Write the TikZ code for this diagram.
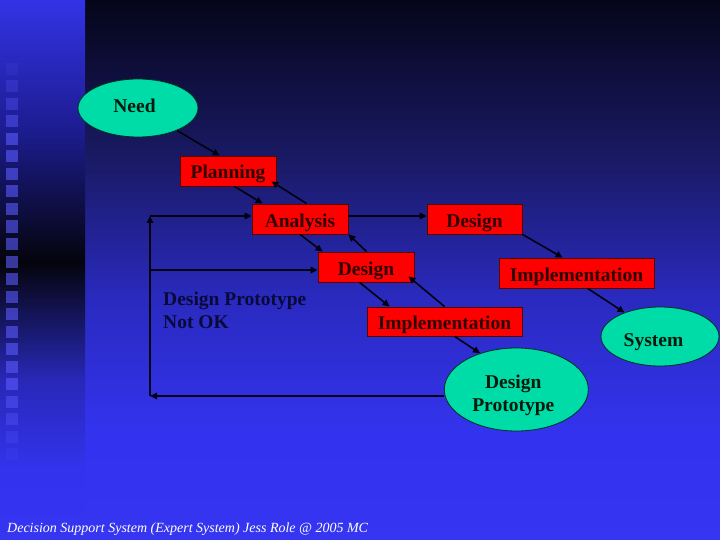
\documentclass[tikz,border=0pt]{standalone}
\usepackage{fontspec}
\setmainfont{Liberation Serif}
\usetikzlibrary{arrows.meta,shapes.geometric}
\definecolor{boxred}{HTML}{FF0000}
\definecolor{boxedge}{HTML}{5A0000}
\definecolor{boxtext}{HTML}{300000}
\definecolor{ovalfill}{HTML}{00DCA8}
\definecolor{ovaledge}{HTML}{00301F}
\definecolor{ovaltext}{HTML}{001A0C}
\definecolor{linecol}{HTML}{000010}
\definecolor{notokcol}{HTML}{0A0A38}
\definecolor{bgA}{HTML}{05051A}
\definecolor{bgB}{HTML}{1A1A66}
\definecolor{bgC}{HTML}{2A2AC0}
\definecolor{bgD}{HTML}{3333EE}
\definecolor{bgE}{HTML}{3535F2}
\definecolor{stA}{HTML}{3333E6}
\definecolor{stB}{HTML}{1C1C90}
\definecolor{stC}{HTML}{04040C}
\definecolor{stD}{HTML}{2828B8}
\definecolor{sqcol}{HTML}{5A5AFF}
\begin{document}
\begin{tikzpicture}[x=1pt,y=-1pt,
  stepbox/.style={rectangle, draw=boxedge, line width=0.8pt, fill=boxred,
    minimum height=30pt, inner sep=0pt, text=boxtext,
    font=\fontsize{19.5}{23}\selectfont\bfseries, text height=16pt, text depth=0pt},
  oval/.style={ellipse, draw=ovaledge, line width=0.8pt, fill=ovalfill,
    inner sep=0pt, text=ovaltext, font=\fontsize{19.5}{23}\selectfont\bfseries},
  conn/.style={draw=linecol, line width=1.6pt, -{Triangle[width=6.5pt,length=7pt]}},
  plain/.style={inner sep=0pt, text=notokcol, font=\fontsize{19.5}{23}\selectfont\bfseries},
  footer/.style={inner sep=0pt, text=white, font=\fontsize{14}{16}\selectfont\itshape}
]
\useasboundingbox (0,0) rectangle (720,540);
% background (main area)
\shade[top color=bgA, bottom color=bgB] (85,0) rectangle (720,160.5);
\shade[top color=bgB, bottom color=bgC] (85,160) rectangle (720,300.5);
\shade[top color=bgC, bottom color=bgD] (85,300) rectangle (720,430.5);
\shade[top color=bgD, bottom color=bgE] (85,430) rectangle (720,540);
% left strip
\shade[top color=stA, bottom color=stB] (0,0) rectangle (85,130.5);
\shade[top color=stB, bottom color=stC] (0,130) rectangle (85,262.5);
\shade[top color=stC, bottom color=stD] (0,262) rectangle (85,380.5);
\shade[top color=stD, bottom color=bgD] (0,380) rectangle (85,470.5);
\shade[top color=bgD, bottom color=bgE] (0,470) rectangle (85,540);
\foreach \i in {0,...,22} {
  \pgfmathsetmacro\op{0.6*min(1,(\i+1)/5,(23-\i)/5)}
  \fill[sqcol, opacity=\op] (6,{63+\i*17.5}) rectangle ++(12,12);
}
% nodes
\node[oval, minimum width=120pt, minimum height=58pt, text height=9.4pt, text depth=0pt] (need) at (138,108) {Need\kern7pt};
\node[stepbox, minimum width=96pt] (planning) at (228,171) {Planning};
\node[stepbox, minimum width=96pt] (analysis) at (300,219) {Analysis};
\node[stepbox, minimum width=95pt] (design1) at (474.5,219) {Design};
\node[stepbox, minimum width=96pt] (design2) at (366,267) {Design};
\node[stepbox, minimum width=155pt, minimum height=29pt] (impl1) at (444.5,321.5) {Implementation};
\node[stepbox, minimum width=155pt] (impl2) at (576.5,273) {Implementation};
\node[oval, minimum width=118pt, minimum height=59pt, text height=20.4pt, text depth=0pt] (system) at (660,336.5) {System\kern13pt};
\node[oval, minimum width=144pt, minimum height=83pt, align=center] (proto) at (516.3,389.5) {\rule{0pt}{26pt}Design\kern6pt\\Prototype\kern6pt};
\node[plain, anchor=base west] (notok1) at (163,305) {Design Prototype};
\node[plain, anchor=base west] (notok2) at (163,328) {Not OK};
\node[footer, anchor=base west] (foot) at (7,532) {Decision Support System (Expert System) Jess Role @ 2005 MC};
% connectors
\draw[conn] (need.-30) -- ([xshift=40pt]planning.north west);
\draw[conn] ([xshift=55pt]planning.south west) -- ([xshift=11pt]analysis.north west);
\draw[conn] ([xshift=55pt]analysis.north west) -- ([xshift=-5pt,yshift=5pt]planning.south east);
\draw[conn] (analysis.south) -- ([xshift=5pt]design2.north west);
\draw[conn] ([xshift=49pt]design2.north west) -- (analysis.south east);
\draw[conn] ([yshift=3pt]analysis.east) -- ([yshift=3pt]design1.west);
\draw[conn] (design1.south east) -- ([xshift=64pt]impl2.north west);
\draw[conn] ([xshift=89pt]impl2.south west) -- (system.146);
\draw[conn] ([xshift=42pt]design2.south west) -- ([xshift=23pt]impl1.north west);
\draw[conn] ([xshift=78pt]impl1.north west) -- ([xshift=-6pt,yshift=6pt]design2.south east);
\draw[conn] ([xshift=88pt]impl1.south west) -- (proto.135);
\coordinate (c1) at (150,396);
\coordinate (c2) at (150,216);
\coordinate (c3) at (150,270);
\draw[conn] ([yshift=-6.5pt]proto.west) -- (c1);
\draw[conn] (c1) -- (c2);
\draw[conn] (c2) -- ([yshift=3pt]analysis.west);
\draw[conn] (c3) -- ([yshift=-3pt]design2.west);
\end{tikzpicture}
\end{document}
